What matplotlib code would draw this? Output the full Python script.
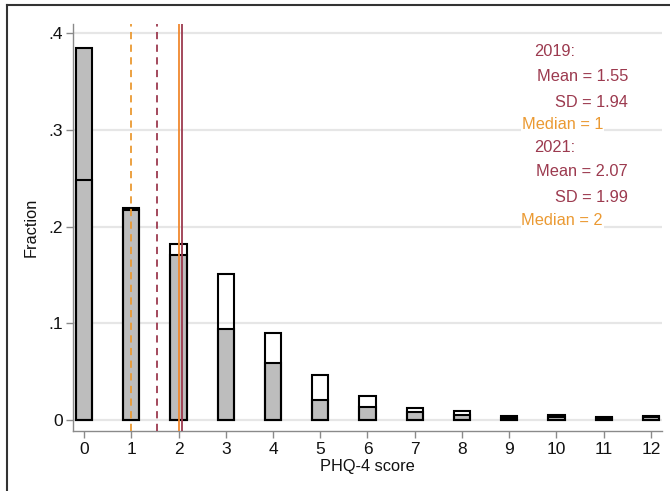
import numpy as np
import matplotlib.pyplot as plt
from matplotlib.lines import Line2D

plt.rcParams['font.family'] = ['Liberation Sans', 'DejaVu Sans']

# PHQ-4 score distribution (fraction of respondents)
scores = np.arange(0, 13)
frac_2019 = [0.385, 0.219, 0.171, 0.094, 0.059, 0.021, 0.013, 0.008, 0.005, 0.002, 0.003, 0.002, 0.003]
frac_2021 = [0.248, 0.217, 0.182, 0.151, 0.090, 0.047, 0.025, 0.012, 0.009, 0.004, 0.005, 0.003, 0.004]

mean_2019, sd_2019, median_2019 = 1.55, 1.94, 1
mean_2021, sd_2021, median_2021 = 2.07, 1.99, 2

y_ticks = [0, 0.1, 0.2, 0.3, 0.4]
y_ticklabels = ['0', '.1', '.2', '.3', '.4']

maroon = '#9c3a4f'
orange = '#eb9a33'
line_orange = '#f0882e'

fig = plt.figure(figsize=(6.7, 4.91), dpi=100)
ax = fig.add_axes([73 / 670, 60 / 491, 589 / 670, 407 / 491])

# 2019 bars filled grey, 2021 bars as outlines on top
ax.bar(scores, frac_2019, width=0.34, color='#bdbdbd', edgecolor='black', linewidth=1.5, zorder=3)
ax.bar(scores, frac_2021, width=0.34, facecolor='none', edgecolor='black', linewidth=1.5, zorder=4)

# mean and median markers
ax.axvline(median_2019, color=orange, lw=1.3, ls=(0, (4, 3)), zorder=5)
ax.axvline(mean_2019, color=maroon, lw=1.3, ls=(0, (4, 3)), zorder=5)
ax.axvline(median_2021, color=line_orange, lw=1.3, zorder=5)
ax.axvline(mean_2021, color=maroon, lw=1.3, zorder=5)

ax.set_xlim(-0.233, 12.233)
ax.set_ylim(-0.0114, 0.4095)
ax.set_xticks(scores)
ax.set_yticks(y_ticks)
ax.set_yticklabels(y_ticklabels)
ax.yaxis.grid(True, color='#e6e6e6', lw=1.6, zorder=0)
ax.set_axisbelow(True)

for side in ['top', 'right']:
    ax.spines[side].set_visible(False)
for side in ['left', 'bottom']:
    ax.spines[side].set_color('#8a8a8a')
    ax.spines[side].set_linewidth(1.0)
ax.tick_params(axis='both', colors='#8a8a8a', length=5, width=1.0, labelcolor='#111111', labelsize=12.5)
ax.tick_params(axis='y', pad=2)
ax.tick_params(axis='x', pad=3)

ax.set_xlabel('PHQ-4 score', fontsize=11.8, color='#111111')
ax.set_ylabel('Fraction', fontsize=11.8, color='#111111')
ax.xaxis.set_label_coords(0.5, -0.07)
ax.yaxis.set_label_coords(-0.058, 0.5)

# summary statistics
def ypos(px):
    return (420 - px) / 967

def xpos(px):
    return (px - 84) / 47.25

stats = [
    ('2019:', 575, 52, maroon),
    (f'Mean = {mean_2019:.2f}', 628, 77, maroon),
    (f'SD = {sd_2019:.2f}', 628, 103, maroon),
    (f'Median = {median_2019}', 603, 125, orange),
    ('2021:', 575, 148, maroon),
    (f'Mean = {mean_2021:.2f}', 628, 172, maroon),
    (f'SD = {sd_2021:.2f}', 628, 198, maroon),
    (f'Median = {median_2021}', 603, 221, orange),
]
for txt, xr, yc, col in stats:
    ax.text(xpos(xr), ypos(yc), txt, ha='right', va='center', fontsize=11.8, color=col,
            zorder=6, bbox=dict(facecolor='white', edgecolor='none', pad=0.5))

# outer frame
fig.add_artist(Line2D([7 / 670, 7 / 670], [0, 1 - 5 / 491], color='#333333', lw=1.5))
fig.add_artist(Line2D([7 / 670, 1], [1 - 5 / 491, 1 - 5 / 491], color='#333333', lw=1.5))

fig.savefig('out.png', dpi=100)
